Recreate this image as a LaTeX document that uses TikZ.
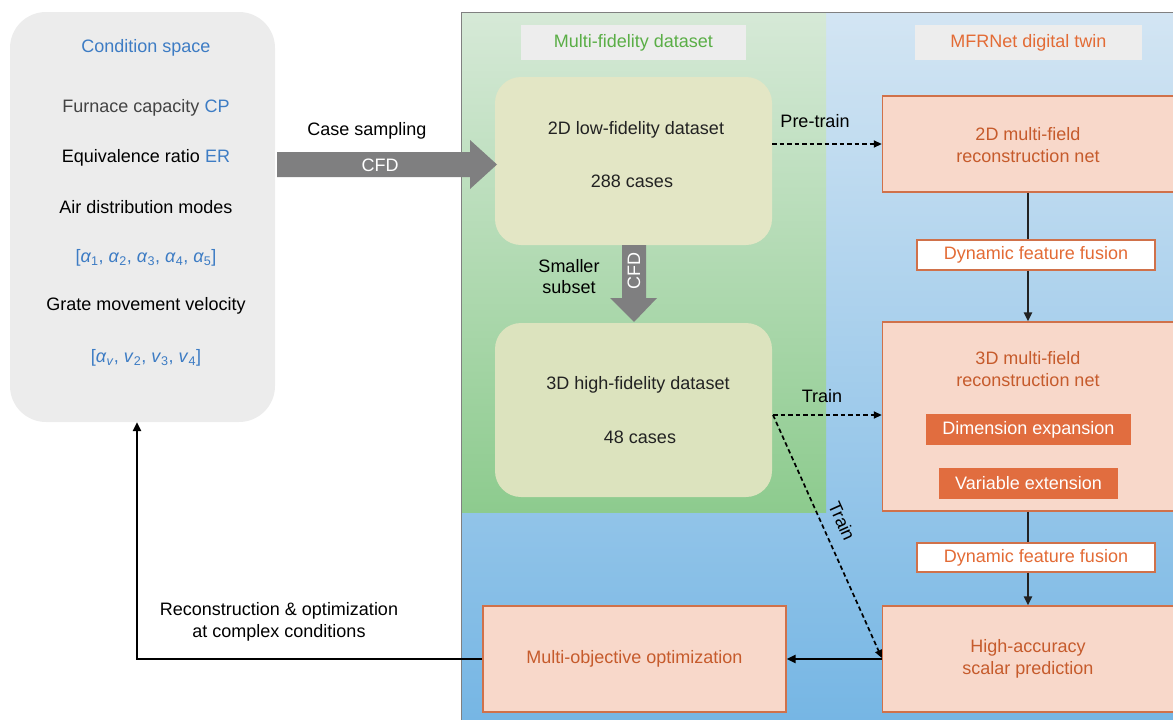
\documentclass[tikz,border=0pt]{standalone}
\usepackage{fontspec}
\setmainfont{Liberation Sans}
\usetikzlibrary{arrows.meta,calc}
\definecolor{cblue}{HTML}{3D7CC4}
\definecolor{cgray}{HTML}{ECECEC}
\definecolor{clabel}{HTML}{EDEDED}
\definecolor{carrow}{HTML}{7F7F80}
\definecolor{cgreentxt}{HTML}{5AAE46}
\definecolor{corangetxt}{HTML}{E36B35}
\definecolor{cboxfill}{HTML}{F8D8CA}
\definecolor{cboxdraw}{HTML}{D0714A}
\definecolor{cboxtxt}{HTML}{C65B2C}
\definecolor{cfill}{HTML}{E16D3F}
\definecolor{ctopblue}{HTML}{D3E5F3}
\definecolor{cbotblue}{HTML}{76B6E4}
\definecolor{ctopgreen}{HTML}{D6E9D7}
\definecolor{cbotgreen}{HTML}{8DCB8E}
\definecolor{cyel}{HTML}{E3E6C5}
\definecolor{cyelb}{HTML}{DCE3BE}
\definecolor{cdark}{HTML}{222222}
\tikzset{
  txt/.style={font=\fontsize{18}{22}\selectfont, inner sep=0pt, text=cdark},
  panelbox/.style={draw=cboxdraw, line width=1.4pt, fill=cboxfill, inner sep=0pt},
  boxtxt/.style={txt, text=cboxtxt, align=center},
  dffbox/.style={draw=cboxdraw, line width=1.4pt, fill=white, inner sep=0pt, txt, text=corangetxt},
  subbox/.style={fill=cfill, inner sep=0pt, txt, text=white},
  yelbox/.style={rounded corners=26pt, inner sep=0pt},
  dasharr/.style={dashed, dash pattern=on 4.5pt off 3pt, line width=1.7pt, -{Triangle[length=8pt,width=7pt]}},
  solidarr/.style={line width=2.7pt, -{Triangle[length=9pt,width=8pt]}},
  solidline/.style={line width=2.7pt},
}
\begin{document}
\begin{tikzpicture}[x=1pt,y=-1pt]
\useasboundingbox (0,0) rectangle (1173,720);
% panel backgrounds
\shade[top color=ctopblue, bottom color=cbotblue] (461,12) rectangle (1173,720);
\shade[top color=ctopgreen, bottom color=cbotgreen] (461,12) rectangle (826,512);
\draw[color=gray, line width=0.9pt] (461,720) -- (461,12) -- (1173,12);

% condition space
\node[fill=cgray, rounded corners=36pt, minimum width=265pt, minimum height=410pt, inner sep=0pt] (cond) at (142.5,217) {};
\node[txt, text=cblue] (ctitle) at (146,48) {Condition space};
\node[txt, text=cdark!85!white] (c1) at (146,108) {Furnace capacity \textcolor{cblue}{CP}};
\node[txt, text=black] (c2) at (146,158) {Equivalence ratio \textcolor{cblue}{ER}};
\node[txt, text=black] (c3) at (146,207) {Air distribution modes};
\node[txt, text=cblue] (c4) at (146,258) {[\textit{α}\textsubscript{1}, \textit{α}\textsubscript{2}, \textit{α}\textsubscript{3}, \textit{α}\textsubscript{4}, \textit{α}\textsubscript{5}]};
\node[txt, text=black] (c5) at (146,306) {Grate movement velocity};
\node[txt, text=cblue] (c6) at (146,358) {[\textit{α}\textsubscript{\textit{v}}, \textit{v}\textsubscript{2}, \textit{v}\textsubscript{3}, \textit{v}\textsubscript{4}]};

% panel titles
\node[fill=clabel, minimum width=225pt, minimum height=35pt, inner sep=0pt, txt, text=cgreentxt] (mfd) at (633.5,42.5) {Multi-fidelity dataset};
\node[fill=clabel, minimum width=227pt, minimum height=35pt, inner sep=0pt, txt, text=corangetxt] (mfr) at (1028.5,42.5) {MFRNet digital twin};

% datasets
\node[yelbox, fill=cyel, minimum width=277pt, minimum height=168pt] (low) at (633.5,161) {};
\node[txt] (lowa) at (636,130) {2D low-fidelity dataset};
\node[txt] (lowb) at (632,181) {288 cases};
\node[yelbox, fill=cyelb, minimum width=277pt, minimum height=174pt] (high) at (633.5,410) {};
\node[txt] (higha) at (638,385) {3D high-fidelity dataset};
\node[txt] (highb) at (640,437) {48 cases};

% big CFD arrow
\fill[carrow] (277,152) -- (470,152) -- (470,140) -- (497,164.5) -- (470,189) -- (470,177) -- (277,177) -- cycle;
\node[txt, text=white] (cfd1) at (380,165) {CFD};
\node[txt, text=black] (cs) at (367,131) {Case sampling};

% down CFD arrow
\fill[carrow] (622,245) -- (646,245) -- (646,298) -- (657,298) -- (634,322) -- (610,298) -- (622,298) -- cycle;
\node[txt, text=white, rotate=90] (cfd2) at (634,271) {CFD};
\node[txt, text=black, align=center, font=\fontsize{18}{21}\selectfont] (sub) at (569,277) {Smaller\\subset};

% MFRNet column
\node[panelbox, minimum width=291pt, minimum height=96pt] (net2) at (1028,144) {};
\node[boxtxt] (net2t) at (1028,145) {2D multi-field\\reconstruction net};
\node[dffbox, minimum width=238pt, minimum height=30pt] (dff1) at (1036,255) {Dynamic feature fusion};
\node[panelbox, minimum width=291pt, minimum height=189pt] (net3) at (1028,416.5) {};
\node[boxtxt] (net3t) at (1028,369) {3D multi-field\\reconstruction net};
\node[subbox, minimum width=205pt, minimum height=31pt] (dimexp) at (1028.5,429.5) {Dimension expansion};
\node[subbox, minimum width=179pt, minimum height=31pt] (varext) at (1028.5,483.5) {Variable extension};
\node[dffbox, minimum width=238pt, minimum height=29pt] (dff2) at (1036,557.5) {Dynamic feature fusion};
\node[panelbox, minimum width=291pt, minimum height=106pt] (hacc) at (1028,659) {};
\node[boxtxt] (hacct) at (1028,658.5) {High-accuracy\\scalar prediction};
\node[panelbox, minimum width=303pt, minimum height=106pt, boxtxt] (mobj) at (634.5,659) {Multi-objective optimization};

% connectors in MFRNet column
\draw[solidline, color=cdark] (net2.south) -- (net2.south |- dff1.north);
\draw[solidarr, color=cdark] (net2.south |- dff1.south) -- (net3.north);
\draw[solidline, color=cdark] (net3.south) -- (net3.south |- dff2.north);
\draw[solidarr, color=cdark] (net3.south |- dff2.south) -- (hacc.north);

% dashed training arrows
\draw[dasharr] (low.east |- net2.west) -- (net2.west);
\node[txt, text=black] (pt) at (815,121) {Pre-train};
\coordinate (tr) at (773,415);
\draw[dasharr] (tr) -- (tr -| net3.west);
\node[txt, text=black] (trl) at (822,396) {Train};
\draw[dasharr] (tr) -- ($(hacc.west)+(0,-1)$);
\node[txt, text=black, rotate=-65.8] (trl2) at (842,521) {Train};

% optimisation loop
\draw[solidarr, color=black] (hacc.west) -- (mobj.east);
\coordinate (ret) at (137,659);
\draw[solidarr, color=black] (mobj.west) -- (ret) -- (ret |- cond.south);
\node[txt, text=black, align=center, font=\fontsize{18}{22}\selectfont] (rec) at (279,622) {Reconstruction \& optimization\\at complex conditions};
\end{tikzpicture}
\end{document}
